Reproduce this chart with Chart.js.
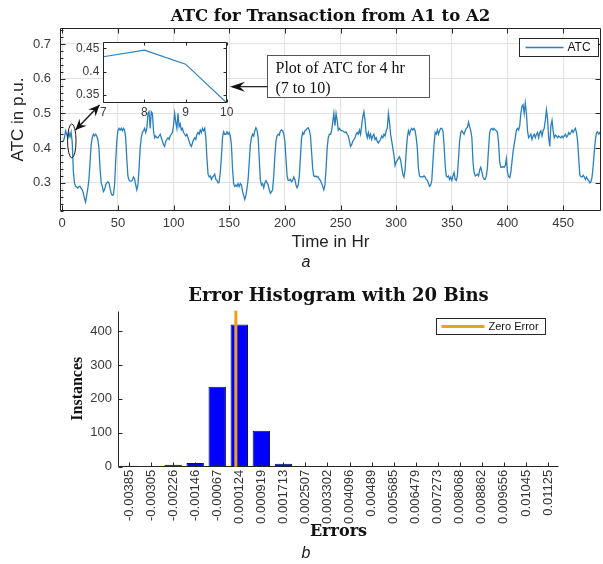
<!DOCTYPE html>
<html>
<head>
<meta charset="utf-8">
<title>ATC for Transaction from A1 to A2</title>
<script src="https://cdn.jsdelivr.net/npm/chart.js@4.4.1/dist/chart.umd.min.js"></script>
<style>
  body { margin: 0; background: #fff; }
  #figure { position: relative; width: 603px; height: 564px; overflow: hidden; }
  #figure canvas { position: absolute; }
  .caption { position: absolute; width: 20px; text-align: center; font: italic 16px "Liberation Sans", Arial, sans-serif; color: #1a1a1a; }
</style>
</head>
<body>
<div id="figure">
  <canvas id="atc-chart" width="603" height="255" style="left:0;top:0"></canvas>
  <canvas id="zoom-chart" width="180" height="90" style="left:60px;top:30px"></canvas>
  <div class="caption" style="left:296px;top:253px">a</div>
  <canvas id="hist-chart" width="603" height="284" style="left:0;top:280px"></canvas>
  <div class="caption" style="left:296px;top:544px">b</div>
</div>
<script>
// ATC in p.u. for every hour, starting at hour 1 (one row per day)
const atcPerHour = [
  0.42, 0.43, 0.45, 0.44, 0.43, 0.445, 0.432, 0.446, 0.416, 0.333, 0.30, 0.29, 0.288, 0.285, 0.29, 0.29, 0.284, 0.28, 0.27, 0.255, 0.245, 0.264, 0.284, 0.31,
  0.36, 0.41, 0.43, 0.44, 0.435, 0.44, 0.435, 0.425, 0.40, 0.34, 0.30, 0.29, 0.275, 0.28, 0.294, 0.30, 0.303, 0.30, 0.284, 0.27, 0.264, 0.266, 0.294, 0.36,
  0.42, 0.45, 0.457, 0.452, 0.457, 0.45, 0.457, 0.452, 0.43, 0.37, 0.32, 0.308, 0.305, 0.305, 0.308, 0.317, 0.312, 0.294, 0.28, 0.294, 0.34, 0.40, 0.43, 0.445,
  0.45, 0.457, 0.445, 0.457, 0.50, 0.505, 0.457, 0.505, 0.50, 0.45, 0.43, 0.435, 0.43, 0.43, 0.435, 0.44, 0.43, 0.42, 0.41, 0.405, 0.42, 0.425, 0.43, 0.425,
  0.435, 0.44, 0.445, 0.465, 0.50, 0.475, 0.457, 0.50, 0.462, 0.47, 0.452, 0.457, 0.445, 0.44, 0.435, 0.44, 0.43, 0.42, 0.41, 0.405, 0.415, 0.425, 0.43, 0.425,
  0.44, 0.445, 0.44, 0.452, 0.445, 0.457, 0.45, 0.457, 0.43, 0.37, 0.325, 0.317, 0.32, 0.31, 0.317, 0.32, 0.325, 0.31, 0.307, 0.30, 0.303, 0.33, 0.375, 0.43,
  0.447, 0.44, 0.44, 0.447, 0.44, 0.445, 0.435, 0.41, 0.34, 0.298, 0.29, 0.294, 0.29, 0.298, 0.29, 0.298, 0.294, 0.275, 0.264, 0.252, 0.264, 0.284, 0.31, 0.36,
  0.41, 0.43, 0.44, 0.435, 0.45, 0.459, 0.452, 0.43, 0.37, 0.307, 0.294, 0.298, 0.286, 0.30, 0.307, 0.30, 0.294, 0.28, 0.27, 0.275, 0.28, 0.32, 0.375, 0.42,
  0.435, 0.44, 0.437, 0.45, 0.452, 0.45, 0.44, 0.42, 0.37, 0.32, 0.307, 0.307, 0.31, 0.303, 0.307, 0.317, 0.31, 0.294, 0.286, 0.294, 0.32, 0.375, 0.43, 0.445,
  0.44, 0.45, 0.452, 0.457, 0.459, 0.452, 0.435, 0.39, 0.34, 0.32, 0.318, 0.32, 0.317, 0.317, 0.31, 0.307, 0.298, 0.29, 0.28, 0.294, 0.34, 0.40, 0.43, 0.44,
  0.44, 0.45, 0.475, 0.50, 0.465, 0.50, 0.48, 0.452, 0.457, 0.452, 0.45, 0.45, 0.447, 0.445, 0.447, 0.44, 0.435, 0.42, 0.405, 0.41, 0.42, 0.425, 0.43, 0.44,
  0.445, 0.44, 0.452, 0.44, 0.465, 0.49, 0.505, 0.48, 0.445, 0.43, 0.445, 0.43, 0.44, 0.425, 0.435, 0.44, 0.425, 0.43, 0.42, 0.415, 0.42, 0.425, 0.435, 0.43,
  0.44, 0.435, 0.45, 0.457, 0.50, 0.475, 0.44, 0.42, 0.40, 0.38, 0.35, 0.36, 0.365, 0.37, 0.375, 0.365, 0.345, 0.325, 0.317, 0.337, 0.39, 0.43, 0.45, 0.44,
  0.452, 0.457, 0.452, 0.457, 0.45, 0.43, 0.40, 0.34, 0.32, 0.317, 0.318, 0.317, 0.32, 0.317, 0.31, 0.307, 0.298, 0.29, 0.294, 0.307, 0.36, 0.41, 0.445, 0.44,
  0.452, 0.44, 0.45, 0.457, 0.457, 0.45, 0.41, 0.35, 0.32, 0.317, 0.32, 0.31, 0.317, 0.307, 0.32, 0.33, 0.31, 0.307, 0.32, 0.37, 0.42, 0.445, 0.45, 0.445,
  0.44, 0.45, 0.457, 0.46, 0.475, 0.462, 0.45, 0.43, 0.36, 0.33, 0.32, 0.322, 0.325, 0.32, 0.337, 0.345, 0.332, 0.317, 0.31, 0.31, 0.32, 0.345, 0.40, 0.445,
  0.455, 0.457, 0.452, 0.457, 0.452, 0.45, 0.445, 0.415, 0.36, 0.345, 0.345, 0.347, 0.345, 0.35, 0.37, 0.33, 0.318, 0.315, 0.33, 0.36, 0.39, 0.41, 0.43, 0.452,
  0.457, 0.452, 0.465, 0.50, 0.52, 0.525, 0.50, 0.53, 0.50, 0.45, 0.43, 0.435, 0.44, 0.425, 0.435, 0.44, 0.43, 0.44, 0.445, 0.43, 0.445, 0.45, 0.435, 0.45,
  0.457, 0.48, 0.51, 0.485, 0.43, 0.405, 0.465, 0.48, 0.45, 0.43, 0.437, 0.435, 0.43, 0.435, 0.432, 0.43, 0.435, 0.43, 0.435, 0.44, 0.432, 0.435, 0.445, 0.44,
  0.445, 0.452, 0.445, 0.452, 0.457, 0.445, 0.42, 0.37, 0.322, 0.318, 0.317, 0.322, 0.317, 0.31, 0.317, 0.31, 0.307, 0.30, 0.303, 0.317, 0.35, 0.39, 0.425, 0.445,
  0.447, 0.44, 0.445, 0.44
];
const hourTicks = [0, 50, 100, 150, 200, 250, 300, 350, 400, 450];
const atcTicks = [0.3, 0.4, 0.5, 0.6, 0.7];

// hours shown in the zoomed window
const zoomHours = [7, 8, 9, 10];
const zoomTicks = [0.35, 0.4, 0.45];

// error histogram, 20 bins
const binLabels = ['-0.00385', '-0.00305', '-0.00226', '-0.00146', '-0.00067', '0.000124', '0.000919', '0.001713', '0.002507', '0.003302',
  '0.004096', '0.00489', '0.005685', '0.006479', '0.007273', '0.008068', '0.008862', '0.009656', '0.01045', '0.01125'];
const binCounts = [3, 0, 6, 11, 236, 419, 106, 9, 0, 0, 0, 0, 0, 0, 0, 0, 0, 0, 0, 0];
const countTicks = [0, 100, 200, 300, 400];
const zeroError = 0;

const lineBlue = '#2a80be';
const zeroOrange = '#f0a020';
const inkGray = '#262626';

Chart.defaults.font.family = '"Liberation Sans", Arial, sans-serif';
Chart.defaults.color = '#3a3a3a';

const fixTicks = list => scale => { scale.ticks = list.map(v => ({ value: v })); };

// closed axes box with inward tick marks
const axesFrame = {
  id: 'axesFrame',
  afterDatasetsDraw(chart, args, opts) {
    const { ctx, chartArea: a } = chart;
    const xs = chart.scales.x, ys = chart.scales.y;
    const L = Math.round(a.left) + 0.5, R = Math.round(a.right) - 0.5;
    const T = Math.round(a.top) + 0.5, B = Math.round(a.bottom) - 0.5;
    const len = opts.tickLength;
    ctx.save();
    ctx.strokeStyle = opts.color || inkGray;
    ctx.lineWidth = 1;
    ctx.beginPath();
    if (opts.box) {
      ctx.rect(L, T, R - L, B - T);
    } else {
      ctx.moveTo(L, T); ctx.lineTo(L, B); ctx.lineTo(R, B);
    }
    xs.ticks.forEach((t, i) => {
      const p = Math.round(xs.getPixelForTick(i)) + 0.5;
      ctx.moveTo(p, B); ctx.lineTo(p, B - len);
      if (opts.box) { ctx.moveTo(p, T); ctx.lineTo(p, T + len); }
    });
    ys.ticks.forEach((t, i) => {
      const p = Math.round(ys.getPixelForTick(i)) + 0.5;
      ctx.moveTo(L, p); ctx.lineTo(L + len, p);
      if (opts.box) { ctx.moveTo(R, p); ctx.lineTo(R - len, p); }
    });
    if (opts.minorStep) {
      const step = opts.minorStep;
      for (let k = Math.ceil(ys.min / step); k * step <= ys.max; k++) {
        const p = Math.round(ys.getPixelForValue(k * step)) + 0.5;
        ctx.moveTo(L, p); ctx.lineTo(L + 3, p);
      }
    }
    ctx.stroke();
    ctx.restore();
  }
};

// vertical reference line at a given error value, placed between the bin centres
const zeroLine = {
  id: 'zeroLine',
  afterDatasetsDraw(chart, args, o) {
    const { ctx, chartArea: a } = chart;
    const centres = o.centres;
    const step = (centres[centres.length - 1] - centres[0]) / (centres.length - 1);
    const px = chart.scales.x.getPixelForValue((o.value - centres[0]) / step);
    ctx.save();
    ctx.strokeStyle = o.color;
    ctx.lineWidth = o.width;
    ctx.beginPath();
    ctx.moveTo(px, a.top);
    ctx.lineTo(px, a.bottom);
    ctx.stroke();
    ctx.restore();
  }
};

// legend drawn as a framed box inside the plot
const boxLegend = {
  id: 'boxLegend',
  afterDraw(chart, args, o) {
    const entry = o.entry || chart.data.datasets[o.dataset];
    const { ctx, chartArea: a } = chart;
    const x = Math.round(a.right - o.right - o.width) + 0.5;
    const y = Math.round(a.top + o.top) + 0.5;
    const mid = y + o.height / 2;
    ctx.save();
    ctx.fillStyle = '#fff';
    ctx.fillRect(x, y, o.width, o.height);
    ctx.strokeStyle = inkGray;
    ctx.lineWidth = 1;
    ctx.strokeRect(x, y, o.width, o.height);
    ctx.strokeStyle = entry.borderColor;
    ctx.lineWidth = entry.borderWidth;
    ctx.beginPath();
    ctx.moveTo(x + o.lineFrom, mid);
    ctx.lineTo(x + o.lineTo, mid);
    ctx.stroke();
    ctx.fillStyle = '#111';
    ctx.font = o.font;
    ctx.textBaseline = 'middle';
    ctx.fillText(entry.label, x + o.textAt, mid + 0.5);
    ctx.restore();
  }
};

function arrowHead(ctx, x0, y0, x1, y1, len, half) {
  const ang = Math.atan2(y1 - y0, x1 - x0);
  ctx.save();
  ctx.translate(x1, y1);
  ctx.rotate(ang);
  ctx.beginPath();
  ctx.moveTo(0, 0);
  ctx.lineTo(-len, -half);
  ctx.lineTo(-len * 0.65, 0);
  ctx.lineTo(-len, half);
  ctx.closePath();
  ctx.fill();
  ctx.restore();
}

// ring round the zoomed hours, link arrow and the note box
const callouts = {
  id: 'callouts',
  afterDraw(chart, args, o) {
    const { ctx } = chart;
    const X = v => chart.scales.x.getPixelForValue(v);
    const Y = v => chart.scales.y.getPixelForValue(v);
    ctx.save();
    ctx.strokeStyle = '#1a1a1a';
    ctx.fillStyle = '#111';
    ctx.lineWidth = 1;

    const r = o.ring;
    ctx.beginPath();
    ctx.ellipse(X(r.x), Y(r.y), X(r.x + r.rx) - X(r.x), Y(r.y) - Y(r.y + r.ry), 0, 0, Math.PI * 2);
    ctx.stroke();

    const k = o.link;
    const ax = X(k.from[0]), ay = Y(k.from[1]), bx = X(k.to[0]), by = Y(k.to[1]);
    ctx.lineWidth = 1.4;
    ctx.beginPath();
    ctx.moveTo(ax, ay); ctx.lineTo(bx, by);
    ctx.stroke();
    arrowHead(ctx, bx, by, ax, ay, 11, 5);
    arrowHead(ctx, ax, ay, bx, by, 11, 5);

    const n = o.note;
    const nx = Math.round(X(n.x0)) + 0.5, ny = Math.round(Y(n.y0)) + 0.5;
    const nw = Math.round(X(n.x1) - X(n.x0)), nh = Math.round(Y(n.y1) - Y(n.y0));
    ctx.fillStyle = '#fff';
    ctx.fillRect(nx, ny, nw, nh);
    ctx.lineWidth = 1;
    ctx.strokeStyle = '#555';
    ctx.strokeRect(nx, ny, nw, nh);
    ctx.fillStyle = '#111';
    ctx.font = '16px "Liberation Serif", "Times New Roman", serif';
    ctx.textBaseline = 'middle';
    n.lines.forEach((line, i) => ctx.fillText(line, nx + 8, ny + 13.5 + i * 20));

    const py = Y(n.pointY), tip = X(n.pointX);
    ctx.strokeStyle = '#1a1a1a';
    ctx.lineWidth = 1.2;
    ctx.beginPath();
    ctx.moveTo(nx, py); ctx.lineTo(tip + 8, py);
    ctx.stroke();
    ctx.fillStyle = '#111';
    arrowHead(ctx, nx, py, tip, py, 15, 5);
    ctx.restore();
  }
};

// white face for the zoomed axes
const plotFace = {
  id: 'plotFace',
  beforeDraw(chart) {
    const { ctx, chartArea: a } = chart;
    ctx.save();
    ctx.fillStyle = '#fff';
    ctx.fillRect(a.left, a.top, a.width, a.height);
    ctx.restore();
  }
};

const atcPoints = atcPerHour.map((v, i) => ({ x: i + 1, y: v }));
const zoomPoints = zoomHours.map(h => ({ x: h, y: atcPerHour[h - 1] }));

new Chart(document.getElementById('atc-chart'), {
  type: 'line',
  data: {
    datasets: [{
      label: 'ATC',
      data: atcPoints,
      borderColor: lineBlue,
      borderWidth: 1.3,
      pointRadius: 0,
      tension: 0
    }]
  },
  options: {
    responsive: false,
    animation: false,
    events: [],
    layout: { padding: { left: 0, right: 2, top: 0, bottom: 2 } },
    plugins: {
      legend: { display: false },
      tooltip: { enabled: false },
      title: {
        display: true,
        fullSize: false,
        text: 'ATC for Transaction from A1 to A2',
        color: '#111',
        font: { family: '"DejaVu Serif", serif', size: 16.5, weight: 'bold' },
        padding: { top: 6.5, bottom: 2 }
      },
      axesFrame: { box: true, tickLength: 5, minorStep: 0.02 },
      boxLegend: { dataset: 0, right: 3, top: 10, width: 79, height: 18, lineFrom: 6, lineTo: 44, textAt: 48, font: '12px "Liberation Sans", Arial, sans-serif' },
      callouts: {
        ring: { x: 8.6, y: 0.421, rx: 3.8, ry: 0.049 },
        link: { from: [11.9, 0.452], to: [33.5, 0.524] },
        note: {
          x0: 183.7, x1: 328.9, y0: 0.668, y1: 0.548,
          pointX: 150.7, pointY: 0.577,
          lines: ['Plot of ATC for 4 hr', '(7 to 10)']
        }
      }
    },
    scales: {
      x: {
        type: 'linear',
        min: -2,
        max: 484,
        afterBuildTicks: fixTicks(hourTicks),
        afterFit: s => { s.height = 42.3; },
        grid: { color: '#e2e2e2', drawTicks: false },
        border: { display: false },
        ticks: { padding: 5, font: { size: 13 }, callback: v => String(v) },
        title: { display: true, text: 'Time in Hr', color: '#222', font: { size: 17 }, padding: { top: 0, bottom: 0 } }
      },
      y: {
        min: 0.22,
        max: 0.745,
        afterBuildTicks: fixTicks(atcTicks),
        afterFit: s => { s.width = 60; },
        grid: { color: '#e2e2e2', drawTicks: false },
        border: { display: false },
        ticks: { padding: 9, font: { size: 13 }, callback: v => String(v) },
        title: { display: true, text: 'ATC in p.u.', color: '#222', font: { size: 17 }, padding: { top: 8, bottom: 0 } }
      }
    }
  },
  plugins: [axesFrame, boxLegend, callouts]
});

new Chart(document.getElementById('zoom-chart'), {
  type: 'line',
  data: {
    datasets: [{ label: 'ATC', data: zoomPoints, borderColor: lineBlue, borderWidth: 1.2, pointRadius: 0, tension: 0 }]
  },
  options: {
    responsive: false,
    animation: false,
    events: [],
    layout: { padding: { left: 0, right: 13.3, top: 12.3, bottom: 0 } },
    plugins: {
      legend: { display: false },
      tooltip: { enabled: false },
      axesFrame: { box: true, tickLength: 3 }
    },
    scales: {
      x: {
        type: 'linear',
        min: 7,
        max: 10,
        afterBuildTicks: fixTicks(zoomHours),
        afterFit: s => { s.height = 16.7; },
        grid: { display: false, drawTicks: false },
        border: { display: false },
        ticks: { padding: 2, font: { size: 12 }, callback: v => String(v) }
      },
      y: {
        min: 0.332,
        max: 0.463,
        afterBuildTicks: fixTicks(zoomTicks),
        afterFit: s => { s.width = 43.3; },
        grid: { display: false, drawTicks: false },
        border: { display: false },
        ticks: { padding: 4, font: { size: 12 }, callback: v => String(v) }
      }
    }
  },
  plugins: [plotFace, axesFrame]
});

const zeroEntry = { label: 'Zero Error', borderColor: zeroOrange, borderWidth: 3 };

new Chart(document.getElementById('hist-chart'), {
  type: 'bar',
  data: {
    labels: binLabels,
    datasets: [{
      label: 'Instances',
      data: binCounts,
      backgroundColor: '#0000ff',
      borderColor: '#101048',
      borderWidth: 1,
      barPercentage: 0.79,
      categoryPercentage: 1
    }]
  },
  options: {
    responsive: false,
    animation: false,
    events: [],
    layout: { padding: { left: 0, right: 44, top: 0, bottom: 23 } },
    plugins: {
      legend: { display: false },
      tooltip: { enabled: false },
      title: {
        display: true,
        fullSize: false,
        text: 'Error Histogram with 20 Bins',
        color: '#111',
        font: { family: '"DejaVu Serif", serif', size: 18, weight: 'bold' },
        padding: { top: 5.5, bottom: 3.6 }
      },
      axesFrame: { box: false, tickLength: 4 },
      zeroLine: { value: zeroError, centres: binLabels.map(Number), color: zeroOrange, width: 3 },
      boxLegend: { entry: zeroEntry, right: 14, top: 7.3, width: 109, height: 16, lineFrom: 5, lineTo: 48, textAt: 52, font: '11px "Liberation Sans", Arial, sans-serif' }
    },
    scales: {
      x: {
        offset: true,
        afterFit: s => { s.height = 74.3; },
        grid: { display: false, drawTicks: false },
        border: { display: false },
        ticks: { autoSkip: false, minRotation: 90, maxRotation: 90, padding: 3, font: { size: 13 }, color: '#333' },
        title: { display: true, text: 'Errors', color: '#111', font: { family: '"DejaVu Serif", serif', size: 16, weight: 'bold' }, padding: { top: 0, bottom: 0 } }
      },
      y: {
        min: 0,
        max: 460,
        afterBuildTicks: fixTicks(countTicks),
        afterFit: s => { s.width = 118; },
        grid: { display: false, drawTicks: false },
        border: { display: false },
        ticks: { padding: 6, font: { size: 13 } },
        title: { display: true, text: 'Instances', color: '#111', font: { family: '"Liberation Serif", serif', size: 16, weight: 'bold' }, padding: { top: 68, bottom: 0 } }
      }
    }
  },
  plugins: [axesFrame, zeroLine, boxLegend]
});
</script>
</body>
</html>
